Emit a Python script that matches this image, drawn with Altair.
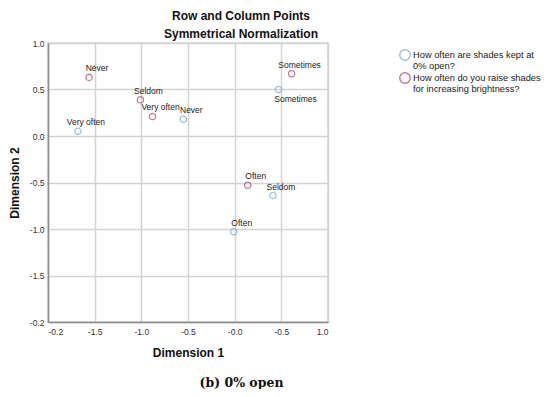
import json
import altair as alt
import pandas as pd

# ---- data ----
series_names = [
    "How often are shades kept at 0% open?",
    "How often do you raise shades for increasing brightness?",
]
legend_lines = [
    ["How often are shades kept at", "0% open?"],
    ["How often do you raise shades", "for increasing brightness?"],
]
series_colors = ["#7fa6c9", "#b0456c"]

shades_cats = ["Very often", "Never", "Sometimes", "Seldom", "Often"]
shades_d1 = [-1.68, -0.55, 0.47, 0.41, -0.01]
shades_d2 = [0.05, 0.18, 0.50, -0.64, -1.03]

raise_cats = ["Never", "Seldom", "Very often", "Sometimes", "Often"]
raise_d1 = [-1.56, -1.01, -0.88, 0.61, 0.14]
raise_d2 = [0.63, 0.39, 0.21, 0.67, -0.53]

x_ticks = [-2.0, -1.5, -1.0, -0.5, 0.0, 0.5, 1.0]
x_tick_labels = ["-0.2", "-1.5", "-1.0", "-0.5", "-0.0", "-0.5", "1.0"]
y_ticks = [1.0, 0.5, 0.0, -0.5, -1.0, -1.5, -2.0]
y_tick_labels = ["1.0", "0.5", "0.0", "-0.5", "-1.0", "-1.5", "-0.2"]

title_lines = ["Row and Column Points", "Symmetrical Normalization"]
caption = "(b) 0% open"

# ---- build table ----
rows = []
for c, a, b in zip(shades_cats, shades_d1, shades_d2):
    rows.append({"series": series_names[0], "cat": c, "d1": a, "d2": b})
for c, a, b in zip(raise_cats, raise_d1, raise_d2):
    rows.append({"series": series_names[1], "cat": c, "d1": a, "d2": b})
df = pd.DataFrame(rows)


def tick_expr(vals, labels):
    parts = []
    for v, l in zip(vals, labels):
        parts.append(f"abs(datum.value - ({v})) < 1e-6 ? {json.dumps(l)}")
    return " : ".join(parts) + " : datum.label"


legend_expr = " : ".join(
    f"datum.label == {json.dumps(n)} ? {json.dumps(l)}" for n, l in zip(series_names, legend_lines)
) + " : datum.label"

FONT = "Liberation Sans"

x = alt.X(
    "d1:Q",
    title="Dimension 1",
    scale=alt.Scale(domain=[-2, 1], nice=False, zero=False),
    axis=alt.Axis(values=x_ticks, labelExpr=tick_expr(x_ticks, x_tick_labels)),
)
y = alt.Y(
    "d2:Q",
    title="Dimension 2",
    scale=alt.Scale(domain=[-2, 1], nice=False, zero=False),
    axis=alt.Axis(values=y_ticks, labelExpr=tick_expr(y_ticks, y_tick_labels)),
)
color = alt.Color(
    "series:N",
    scale=alt.Scale(domain=series_names, range=series_colors),
    legend=alt.Legend(
        title=None,
        orient="none",
        legendX=351,
        legendY=6,
        symbolType="circle",
        symbolSize=110,
        symbolStrokeWidth=1.5,
        symbolFillColor="transparent",
        labelExpr=legend_expr,
        labelFont=FONT,
        labelFontSize=9.3,
        labelColor="#222",
        labelLimit=300,
        labelOffset=2,
        rowPadding=-3,
        padding=0,
    ),
)

base = alt.Chart(df)
points = base.mark_point(shape="circle", filled=False, size=40, strokeWidth=1.3).encode(
    x=x, y=y, color=color
)
is_below = f"datum.series == {json.dumps(series_names[0])} && datum.cat == 'Sometimes'"
labels_above = base.transform_filter(f"!({is_below})").mark_text(
    dx=8, dy=-9, fontSize=8.5, font=FONT, color="#222"
).encode(x=x, y=y, text="cat:N")
labels_below = base.transform_filter(is_below).mark_text(
    dx=17, dy=9, fontSize=8.5, font=FONT, color="#222"
).encode(x=x, y=y, text="cat:N")

main = alt.layer(points, labels_above, labels_below)

# invisible layer that only carries the caption as a second bottom axis title
caption_layer = base.mark_point(opacity=0).encode(
    x=alt.X(
        "d1:Q",
        scale=alt.Scale(domain=[-2, 1], nice=False, zero=False),
        axis=alt.Axis(
            orient="bottom",
            title=caption,
            labels=False,
            ticks=False,
            domain=False,
            grid=False,
            titleFont="DejaVu Serif",
            titleFontSize=12.5,
            titleFontWeight="bold",
            titleColor="#111",
            titleX=193,
            titleY=60,
            titleBaseline="middle",
        ),
    ),
    y=y,
)

chart = alt.layer(main, caption_layer).resolve_scale(
    x="independent"
).properties(
    width=280,
    height=279,
    title=alt.TitleParams(
        text=title_lines,
        font=FONT,
        fontSize=12,
        fontWeight="bold",
        color="#111",
        anchor="middle",
        dx=53,
        lineHeight=18,
        offset=-2,
    ),
    autosize=alt.AutoSizeParams(type="none"),
    padding={"left": 40, "top": 35, "right": 214, "bottom": 67},
).configure_view(
    stroke="#d3d3d3", strokeWidth=1.5
).configure_axis(
    grid=True,
    gridColor="#d3d3d3",
    gridWidth=1.5,
    domainColor="#8c8c8c",
    domainWidth=1.5,
    ticks=False,
    labelFont=FONT,
    labelFontSize=8.5,
    labelColor="#333",
    titleFont=FONT,
    titleFontSize=12,
    titleFontWeight="bold",
    titleColor="#111",
).configure_axisX(labelPadding=5, titlePadding=12).configure_axisY(
    labelPadding=4, titlePadding=8
)

chart.save("out.html", embed_options={"renderer": "svg", "actions": False})
